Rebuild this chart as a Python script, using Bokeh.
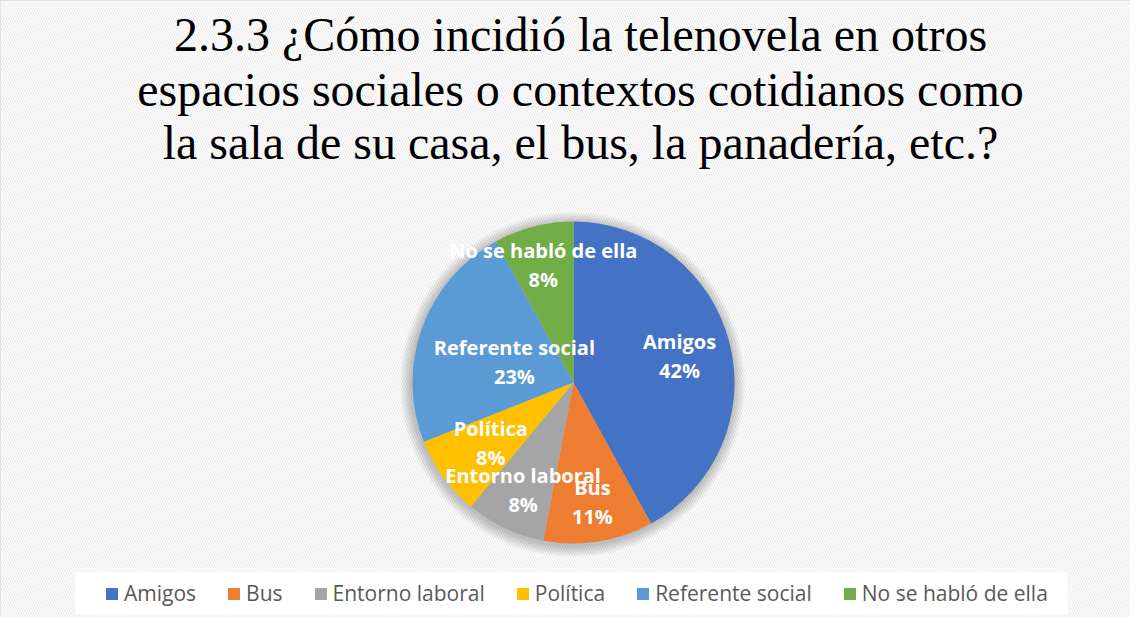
import numpy as np
from bokeh.plotting import figure
from bokeh.models import Range1d, Legend, LegendItem, ColumnDataSource
from bokeh.core.properties import value
from bokeh.embed import file_html
from bokeh.resources import INLINE

# ---- data ----
categories = ["Amigos", "Bus", "Entorno laboral", "Política", "Referente social", "No se habló de ella"]
values = [42, 11, 8, 8, 23, 8]
pct_labels = ["42%", "11%", "8%", "8%", "23%", "8%"]
colors = ["#4472C4", "#ED7D31", "#A5A5A5", "#FFC000", "#5B9BD5", "#70AD47"]
title_lines = [
    "2.3.3 ¿Cómo incidió la telenovela en otros",
    "espacios sociales o contextos cotidianos como",
    "la sala de su casa, el bus, la panadería, etc.?",
]
# label distance from centre as fraction of radius (Excel "best fit" look)
label_r_frac = [0.68, 0.75, 0.735, 0.635, 0.39, 0.755]

# ---- layout ----
W, H = 1130, 617
cx, cy, R = 573, 235, 161

p = figure(width=W, height=H, x_range=Range1d(0, W), y_range=Range1d(0, H),
           output_backend="svg", toolbar_location=None, min_border=0)
p.axis.visible = False
p.grid.visible = False
p.outline_line_color = "#d9d9d9"
p.outline_line_width = 2
p.background_fill_color = "white"
p.border_fill_color = "white"

# hatched chart background
p.quad(left=[0], right=[W], bottom=[0], top=[H], fill_color="white", line_color=None,
       hatch_pattern="\\", hatch_color="#e8e8e8", hatch_scale=5, hatch_weight=1)

# white legend box
p.quad(left=[75], right=[1067], bottom=[3], top=[45], fill_color="white", line_color=None)

# title
p.text(x=[580] * 3, y=[583, 528, 475], text=title_lines,
       text_font=value("Liberation Serif"), text_font_size="48px",
       text_align="center", text_baseline="middle", text_color="black")

# soft shadow around the pie
for k in range(12, 0, -1):
    p.circle(x=[cx - 1], y=[cy - 2], radius=R + k, fill_color="black",
             fill_alpha=0.018, line_color=None)

# pie
vals = np.array(values, dtype=float)
frac = vals / vals.sum()
cum = np.concatenate([[0], np.cumsum(frac)])
start = np.pi / 2 - 2 * np.pi * cum[:-1]
end = np.pi / 2 - 2 * np.pi * cum[1:]
mid = (start + end) / 2
src = ColumnDataSource(dict(start=start, end=end, color=colors, cat=categories))
wedges = p.wedge(x=cx, y=cy, radius=R, start_angle="start", end_angle="end",
                 direction="clock", fill_color="color", line_color=None, source=src)

# data labels
lr = np.array(label_r_frac) * R
lx = cx + lr * np.cos(mid)
ly = cy + lr * np.sin(mid)
p.text(x=lx, y=ly, text=categories, y_offset=-14, text_align="center", text_baseline="middle",
       text_color="white", text_font=value("Open Sans"), text_font_style="bold",
       text_font_size="20px")
p.text(x=lx, y=ly, text=pct_labels, y_offset=15, text_align="center", text_baseline="middle",
       text_color="white", text_font=value("Open Sans"), text_font_style="bold",
       text_font_size="20px")

# legend
items = [LegendItem(label=c, renderers=[wedges], index=i) for i, c in enumerate(categories)]
legend = Legend(items=items, orientation="horizontal", location=(104, 10), padding=8,
                spacing=30, label_standoff=5, glyph_width=15, glyph_height=15,
                label_text_font="Open Sans", label_text_font_size="21px",
                label_text_color="#595959", background_fill_alpha=0,
                border_line_color=None, label_height=20, margin=0)
p.add_layout(legend)

open("out.html", "w").write(file_html(p, INLINE))
